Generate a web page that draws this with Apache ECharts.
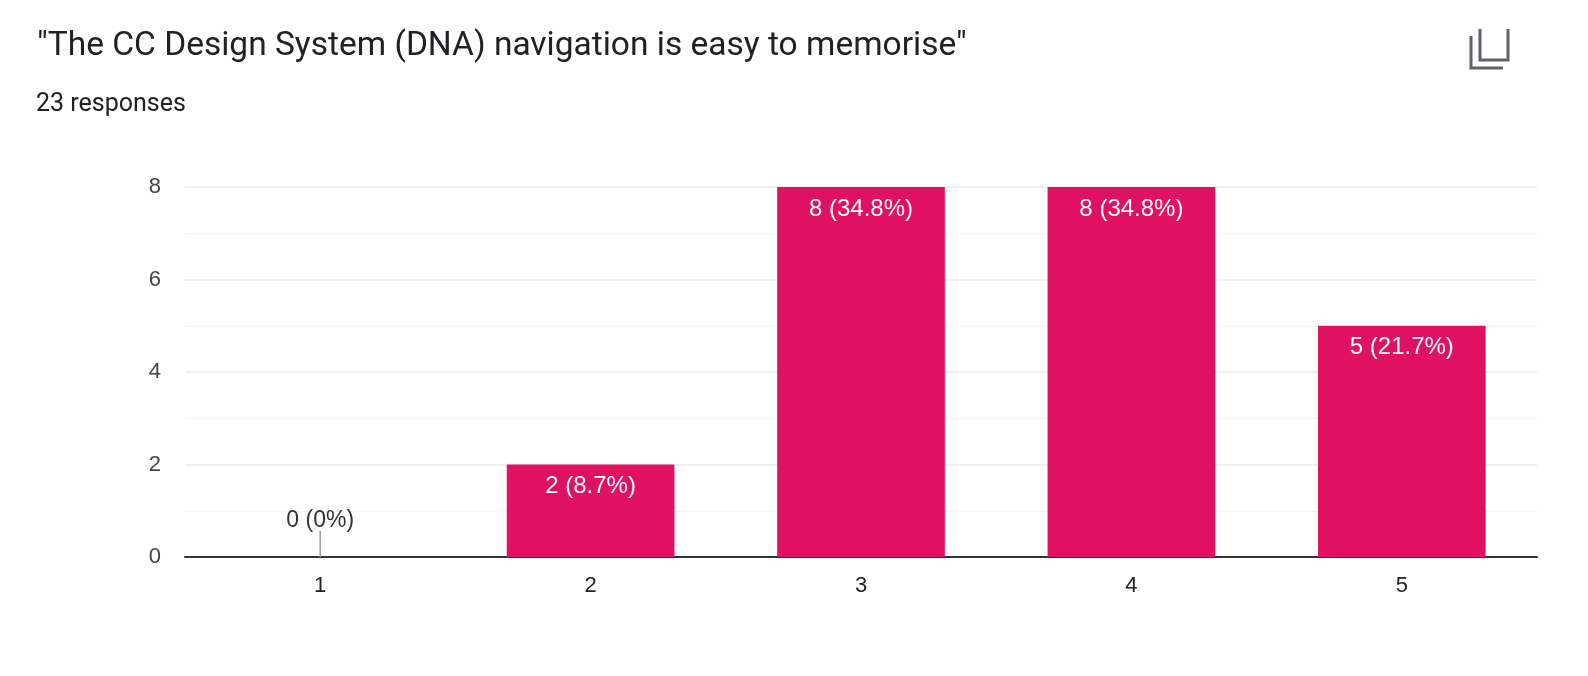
<!DOCTYPE html>
<html><head><meta charset="utf-8">
<script src="https://cdn.jsdelivr.net/npm/echarts@6/dist/echarts.min.js"></script>
<style>html,body{margin:0;padding:0;background:#fff}#c{width:1588px;height:676px}</style>
</head><body><div id="c"></div>
<script>
const titleText = '"The CC Design System (DNA) navigation is easy to memorise"';
const subtitleText = '23 responses';
const categories = ['1', '2', '3', '4', '5'];
const counts = [0, 2, 8, 8, 5];
const percents = ['0%', '8.7%', '34.8%', '34.8%', '21.7%'];
const yTicks = [0, 2, 4, 6, 8];

const chart = echarts.init(document.getElementById('c'));
const font = 'Roboto, "Open Sans", sans-serif';
const cfont = '"Liberation Sans", Arial, sans-serif';
const data = counts.map((v, i) => {
  const item = { value: v };
  if (v === 0) {
    item.label = {
      position: 'top', distance: 0,
      formatter: p => '{t|' + p.value + ' (' + percents[p.dataIndex] + ')}\n{l|}',
      rich: {
        t: { color: '#333', fontSize: 23, fontFamily: cfont, lineHeight: 21, align: 'center' },
        l: { width: 1.5, height: 26, backgroundColor: '#9a9a9a', align: 'center' }
      }
    };
  }
  return item;
});
chart.setOption({
  animation: false,
  textStyle: { fontFamily: cfont },
  title: [
    { text: titleText, left: 32, top: 25, textStyle: { fontFamily: font, fontSize: 33.5, fontWeight: 'normal', color: '#202124' } },
    { text: subtitleText, left: 31, top: 87, textStyle: { fontFamily: font, fontSize: 25, fontWeight: 'normal', color: '#202124' } }
  ],
  grid: { left: 185, right: 51, top: 187, bottom: 119 },
  xAxis: {
    type: 'category', data: categories,
    axisLine: { lineStyle: { color: '#333', width: 2 } },
    axisTick: { show: false },
    axisLabel: { color: '#222', fontSize: 22, margin: 18, fontFamily: cfont }
  },
  yAxis: {
    type: 'value', min: yTicks[0], max: yTicks[yTicks.length - 1], interval: 2,
    axisLine: { show: false }, axisTick: { show: false },
    axisLabel: { color: '#444', fontSize: 22, margin: 24, fontFamily: cfont },
    splitLine: { lineStyle: { color: '#ebebeb', width: 1.5 } },
    minorTick: { show: false, splitNumber: 2 },
    minorSplitLine: { show: true, lineStyle: { color: '#f3f3f3', width: 1 } }
  },
  series: [{
    type: 'bar', data: data, barWidth: '62%',
    itemStyle: { color: '#e01062' },
    label: {
      show: true, position: 'insideTop', distance: 10, color: '#fff', fontSize: 24, fontFamily: cfont,
      formatter: p => p.value + ' (' + percents[p.dataIndex] + ')'
    }
  }],
  graphic: [
    { type: 'polyline', shape: { points: [[1471, 36], [1471, 68], [1503, 68]] }, style: { stroke: '#5f6368', lineWidth: 3, fill: null } },
    { type: 'polyline', shape: { points: [[1480, 29], [1480, 60], [1508, 60], [1508, 29]] }, style: { stroke: '#5f6368', lineWidth: 3, fill: null } }
  ]
});
</script></body></html>
